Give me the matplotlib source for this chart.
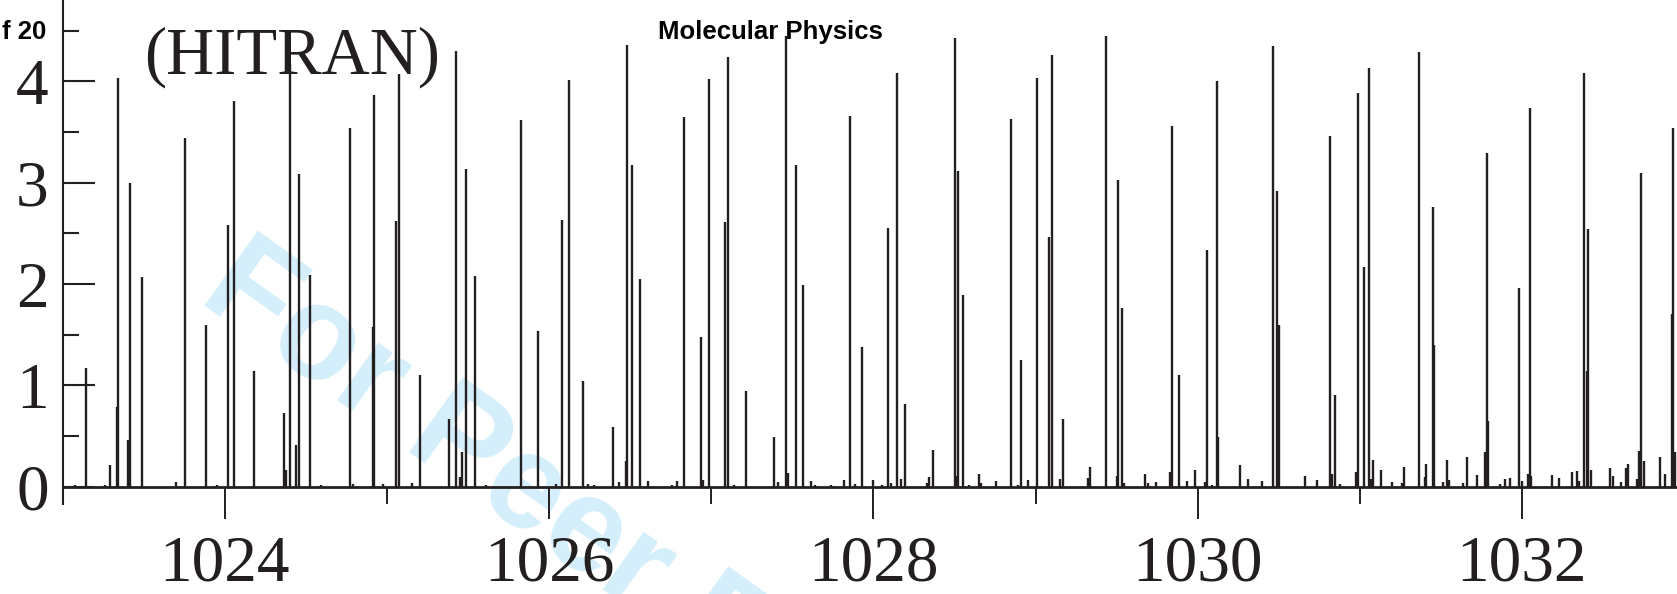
import matplotlib
matplotlib.use("Agg")
import matplotlib.pyplot as plt
from matplotlib.ticker import MultipleLocator

# line positions (cm-1) and intensities
wavenumber = [
    1023.074, 1023.146, 1023.260, 1023.295, 1023.335, 1023.344, 1023.406, 1023.416,
    1023.487, 1023.702, 1023.755, 1023.887, 1023.953, 1024.022, 1024.057, 1024.180,
    1024.364, 1024.380, 1024.405, 1024.441, 1024.456, 1024.523, 1024.594, 1024.773,
    1024.789, 1024.914, 1024.922, 1024.977, 1025.054, 1025.075, 1025.153, 1025.203,
    1025.383, 1025.425, 1025.451, 1025.464, 1025.488, 1025.546, 1025.614, 1025.827,
    1025.930, 1026.044, 1026.079, 1026.125, 1026.211, 1026.243, 1026.275, 1026.392,
    1026.432, 1026.473, 1026.480, 1026.512, 1026.558, 1026.612, 1026.758, 1026.788,
    1026.831, 1026.936, 1026.949, 1026.984, 1027.088, 1027.103, 1027.143, 1027.212,
    1027.385, 1027.415, 1027.459, 1027.474, 1027.520, 1027.566, 1027.618, 1027.643,
    1027.740, 1027.816, 1027.858, 1027.884, 1027.931, 1028.000, 1028.053, 1028.091,
    1028.110, 1028.143, 1028.173, 1028.196, 1028.330, 1028.344, 1028.366, 1028.501,
    1028.507, 1028.523, 1028.554, 1028.587, 1028.651, 1028.665, 1028.758, 1028.848,
    1028.895, 1028.912, 1028.955, 1029.007, 1029.083, 1029.099, 1029.148, 1029.169,
    1029.326, 1029.334, 1029.435, 1029.504, 1029.510, 1029.535, 1029.543, 1029.673,
    1029.693, 1029.744, 1029.832, 1029.844, 1029.882, 1029.937, 1029.985, 1030.046,
    1030.059, 1030.087, 1030.118, 1030.128, 1030.261, 1030.313, 1030.398, 1030.465,
    1030.488, 1030.504, 1030.660, 1030.738, 1030.815, 1030.827, 1030.844, 1030.879,
    1030.979, 1030.989, 1031.026, 1031.055, 1031.070, 1031.082, 1031.133, 1031.197,
    1031.263, 1031.275, 1031.362, 1031.400, 1031.408, 1031.452, 1031.459, 1031.514,
    1031.540, 1031.548, 1031.635, 1031.661, 1031.722, 1031.774, 1031.784, 1031.792,
    1031.865, 1031.896, 1031.927, 1031.981, 1031.998, 1032.035, 1032.049, 1032.056,
    1032.188, 1032.231, 1032.307, 1032.338, 1032.350, 1032.384, 1032.398, 1032.410,
    1032.426, 1032.541, 1032.564, 1032.609, 1032.642, 1032.652, 1032.707, 1032.723,
    1032.734, 1032.755, 1032.852, 1032.885, 1032.927, 1032.934, 1032.944,
]
strength = [
    0.013, 1.17, 0.013, 0.21, 0.79, 4.03, 0.46, 3.00,
    2.07, 0.046, 3.44, 1.60, 0.013, 2.58, 3.81, 1.14,
    0.73, 0.16, 4.17, 0.41, 3.09, 2.09, 0.02, 3.54,
    0.026, 1.58, 3.87, 0.03, 2.62, 4.07, 0.036, 1.10,
    0.67, 4.30, 0.09, 0.34, 3.14, 2.08, 0.016, 3.62,
    1.54, 0.026, 2.63, 4.01, 1.04, 0.03, 0.013, 0.59,
    0.045, 0.25, 4.36, 3.17, 2.05, 0.05, 0.02, 0.056,
    3.65, 1.48, 0.066, 4.02, 2.61, 4.24, 0.013, 0.94,
    0.49, 0.043, 4.45, 0.13, 3.17, 1.99, 0.05, 0.02,
    0.02, 0.06, 3.66, 0.026, 1.38, 0.066, 0.016, 2.55,
    0.033, 4.08, 0.076, 0.82, 0.04, 0.09, 0.36, 4.43,
    0.10, 3.12, 1.89, 0.013, 0.125, 0.033, 0.056, 3.63,
    0.016, 1.25, 0.066, 4.03, 2.46, 4.26, 0.076, 0.67,
    0.08, 0.19, 4.45, 0.10, 3.03, 1.76, 0.033, 0.12,
    0.033, 0.043, 0.14, 3.56, 1.10, 0.056, 0.16, 0.043,
    2.34, 0.02, 4.00, 0.49, 0.21, 0.076, 0.053, 4.35,
    2.92, 1.60, 0.105, 0.066, 3.46, 0.125, 0.90, 0.023,
    0.145, 3.89, 2.17, 4.13, 0.076, 0.26, 0.165, 0.046,
    0.033, 0.195, 4.29, 0.09, 0.22, 2.76, 1.40, 0.043,
    0.26, 0.06, 0.04, 0.29, 0.11, 0.34, 3.29, 0.65,
    0.026, 0.072, 0.082, 1.96, 0.05, 0.125, 3.74, 0.10,
    0.11, 0.086, 0.14, 0.15, 0.056, 4.08, 1.14, 2.54,
    0.16, 0.18, 0.105, 0.046, 0.18, 0.22, 0.072, 0.35,
    3.10, 0.25, 0.29, 0.125, 1.70, 3.54, 0.34,
]

x_ticks = [1024, 1026, 1028, 1030, 1032]
y_ticks = [0, 1, 2, 3, 4]

ink = "#231f20"
serif = "Liberation Serif"

fig = plt.figure(figsize=(16.77, 5.94), dpi=100)
ax = fig.add_axes([0.0373, 0.1519, 0.9627, 0.8481])
ax.patch.set_alpha(0)

# stick spectrum
ax.vlines(wavenumber, 0, strength, color=ink, linewidth=1.7, capstyle="butt", zorder=3)

ax.set_xlim(1023.0, 1032.956)
ax.set_ylim(-0.17, 4.804)

for side in ("top", "right"):
    ax.spines[side].set_visible(False)
ax.spines["bottom"].set_position(("data", 0))
ax.spines["left"].set_linewidth(1.5)
ax.spines["bottom"].set_linewidth(2.0)
ax.spines["left"].set_color(ink)
ax.spines["bottom"].set_color(ink)

ax.set_xticks(x_ticks)
ax.set_xticklabels([str(v) for v in x_ticks])
ax.xaxis.set_minor_locator(MultipleLocator(1))
ax.set_yticks(y_ticks)
ax.set_yticklabels([str(v) for v in y_ticks])
ax.yaxis.set_minor_locator(MultipleLocator(0.5))

ax.tick_params(axis="x", which="major", direction="out", length=23, width=1.4,
               color=ink, pad=12, labelsize=47, labelcolor=ink)
ax.tick_params(axis="x", which="minor", direction="out", length=12, width=1.4, color=ink)
ax.tick_params(axis="y", which="major", direction="in", length=23, width=1.5,
               color=ink, pad=10, labelsize=47, labelcolor=ink)
ax.tick_params(axis="y", which="minor", direction="in", length=11.5, width=1.5, color=ink)
for lab in ax.get_xticklabels() + ax.get_yticklabels():
    lab.set_fontfamily(serif)

ax.text(0.0862, 0.8756, "(HITRAN)", transform=fig.transFigure, fontsize=48,
        family=serif, color=ink, ha="left", va="baseline")

# page furniture of the source
fig.text(0.4595, 0.935, "Molecular Physics", fontsize=18.5, fontweight="bold",
         family="Liberation Sans", color="black", ha="center", va="baseline")
fig.text(0.0273, 0.935, "f 20", fontsize=18.5, fontweight="bold",
         family="Liberation Sans", color="black", ha="right", va="baseline")
fig.text(0.1175, 0.495, "For Peer Review", fontsize=96, fontweight="bold",
         family="Liberation Sans", color="#d4effb", rotation=-35.5,
         rotation_mode="anchor", ha="left", va="baseline", zorder=-5)

fig.savefig("out.png", dpi=100)
